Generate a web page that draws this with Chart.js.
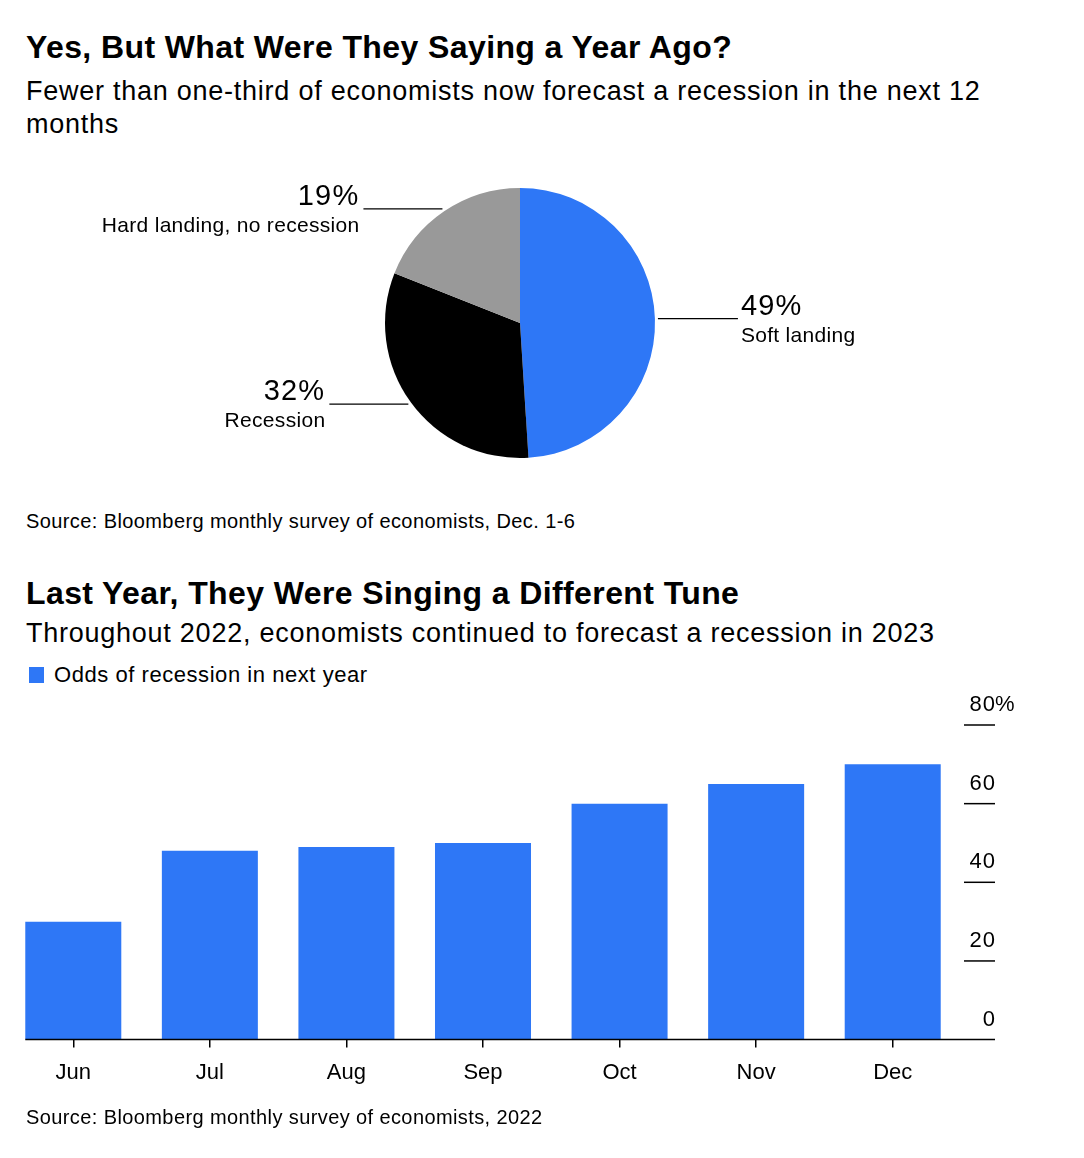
<!DOCTYPE html>
<html>
<head>
<meta charset="utf-8">
<script src="https://cdn.jsdelivr.net/npm/chart.js@4"></script>
<style>
  body { margin: 0; background: #fff; font-family: "Liberation Sans", Arial, sans-serif; color: #000; }
  .page { position: relative; width: 1084px; height: 1158px; }
  .t { position: absolute; left: 26px; line-height: 1; white-space: nowrap; }
  .title { font-size: 32px; font-weight: bold; letter-spacing: 0.4px; }
  .sub { font-size: 27px; line-height: 33px; letter-spacing: 0.75px; }
  .src { font-size: 20px; letter-spacing: 0.4px; }
  .legend { font-size: 22px; left: 29px; letter-spacing: 0.55px; }
  .legend i { display: inline-block; width: 15px; height: 16px; background: #2e77f6; margin-right: 10px; vertical-align: -1px; }
  canvas { position: absolute; left: 0; }
</style>
</head>
<body>
<div class="page">
  <div class="t title" style="top:31px">Yes, But What Were They Saying a Year Ago?</div>
  <div class="t sub" style="top:75px">Fewer than one-third of economists now forecast a recession in the next 12<br>months</div>
  <div style="position:absolute;left:0;top:170px;width:1084px;height:310px"><canvas id="pie"></canvas></div>
  <div class="t src" style="top:511px">Source: Bloomberg monthly survey of economists, Dec. 1-6</div>

  <div class="t title" style="top:577px">Last Year, They Were Singing a Different Tune</div>
  <div class="t sub" style="top:617px">Throughout 2022, economists continued to forecast a recession in 2023</div>
  <div class="t legend" style="top:664px"><i></i>Odds of recession in next year</div>
  <div style="position:absolute;left:0;top:690px;width:1084px;height:420px"><canvas id="bars"></canvas></div>
  <div class="t src" style="top:1107px">Source: Bloomberg monthly survey of economists, 2022</div>
</div>

<script>
const FONT = '"Liberation Sans", Arial, sans-serif';
const BLUE = '#2e77f6';

// pie
const pieLabels = ['Soft landing', 'Recession', 'Hard landing, no recession'];
const pieValues = [49, 32, 19];
const pieColors = [BLUE, '#000000', '#999999'];

// bars
const months = ['Jun', 'Jul', 'Aug', 'Sep', 'Oct', 'Nov', 'Dec'];
const recessionOdds = [30, 48, 49, 50, 60, 65, 70];
const yTicks = [0, 20, 40, 60, 80];

const pieLabelPlugin = {
    id: 'pieLabels',
    afterDatasetsDraw(chart) {
        const ctx = chart.ctx;
        const arcs = chart.getDatasetMeta(0).data;
        ctx.save();
        arcs.forEach((arc, i) => {
            const p = arc.getProps(['x', 'y', 'startAngle', 'endAngle', 'outerRadius'], true);
            const mid = (p.startAngle + p.endAngle) / 2;
            const right = Math.cos(mid) >= 0;
            const sx = p.x + Math.cos(mid) * (p.outerRadius + 3);
            const sy = p.y + Math.sin(mid) * (p.outerRadius + 3);
            const ex = right ? sx + 80 : sx - 79;
            ctx.strokeStyle = '#000';
            ctx.lineWidth = 1.3;
            ctx.beginPath();
            ctx.moveTo(sx, sy);
            ctx.lineTo(ex, sy);
            ctx.stroke();
            ctx.fillStyle = '#000';
            ctx.textAlign = right ? 'left' : 'right';
            ctx.textBaseline = 'alphabetic';
            const tx = right ? ex + 3 : ex - 4;
            ctx.font = '29px ' + FONT;
            ctx.letterSpacing = '1.2px';
            ctx.fillText(pieValues[i] + '%', tx, sy - 4);
            ctx.font = '21px ' + FONT;
            ctx.letterSpacing = '0.3px';
            ctx.fillText(pieLabels[i], tx, sy + 23);
        });
        ctx.restore();
    }
};

new Chart(document.getElementById('pie'), {
    type: 'pie',
    data: {
        labels: pieLabels,
        datasets: [{
            data: pieValues,
            backgroundColor: pieColors,
            borderWidth: 0
        }]
    },
    options: {
        responsive: true,
        maintainAspectRatio: false,
        animation: false,
        layout: { padding: { left: 385, right: 429, top: 18, bottom: 22 } },
        plugins: { legend: { display: false }, tooltip: { enabled: false } }
    },
    plugins: [pieLabelPlugin]
});

const axisPlugin = {
    id: 'rightAxis',
    afterDatasetsDraw(chart) {
        const ctx = chart.ctx;
        const y = chart.scales.y;
        const area = chart.chartArea;
        const x1 = area.right + 3;
        const x2 = area.right + 34;
        ctx.save();
        ctx.strokeStyle = '#000';
        ctx.fillStyle = '#000';
        ctx.lineWidth = 1.5;
        ctx.font = '22px ' + FONT;
        ctx.letterSpacing = '1px';
        ctx.textBaseline = 'alphabetic';
        yTicks.forEach((v) => {
            const py = y.getPixelForValue(v);
            if (v > 0) {
                ctx.beginPath();
                ctx.moveTo(x1, py);
                ctx.lineTo(x2, py);
                ctx.stroke();
            }
            ctx.textAlign = 'right';
            ctx.fillText(String(v), x2 + 1, py - 14);
            if (v === yTicks[yTicks.length - 1]) {
                ctx.textAlign = 'left';
                ctx.fillText('%', x2, py - 14);
            }
        });
        // baseline
        const first = chart.getDatasetMeta(0).data[0];
        const y0 = y.getPixelForValue(0);
        ctx.beginPath();
        ctx.moveTo(first.x - first.width / 2, y0);
        ctx.lineTo(x2, y0);
        ctx.stroke();
        ctx.restore();
    }
};

new Chart(document.getElementById('bars'), {
    type: 'bar',
    data: {
        labels: months,
        datasets: [{
            label: 'Odds of recession in next year',
            data: recessionOdds,
            backgroundColor: BLUE,
            borderWidth: 0,
            barPercentage: 1,
            categoryPercentage: 0.703
        }]
    },
    options: {
        responsive: true,
        maintainAspectRatio: false,
        animation: false,
        layout: { padding: { left: 5, right: 123, top: 35, bottom: 12 } },
        plugins: { legend: { display: false }, tooltip: { enabled: false } },
        scales: {
            x: {
                border: { display: false },
                grid: { offset: false, drawOnChartArea: false, drawTicks: true, tickLength: 8, color: '#000', lineWidth: 1.5 },
                ticks: { color: '#000', font: { family: FONT, size: 22 }, padding: 12 }
            },
            y: {
                display: false,
                min: 0,
                max: 80
            }
        }
    },
    plugins: [axisPlugin]
});
</script>
</body>
</html>
